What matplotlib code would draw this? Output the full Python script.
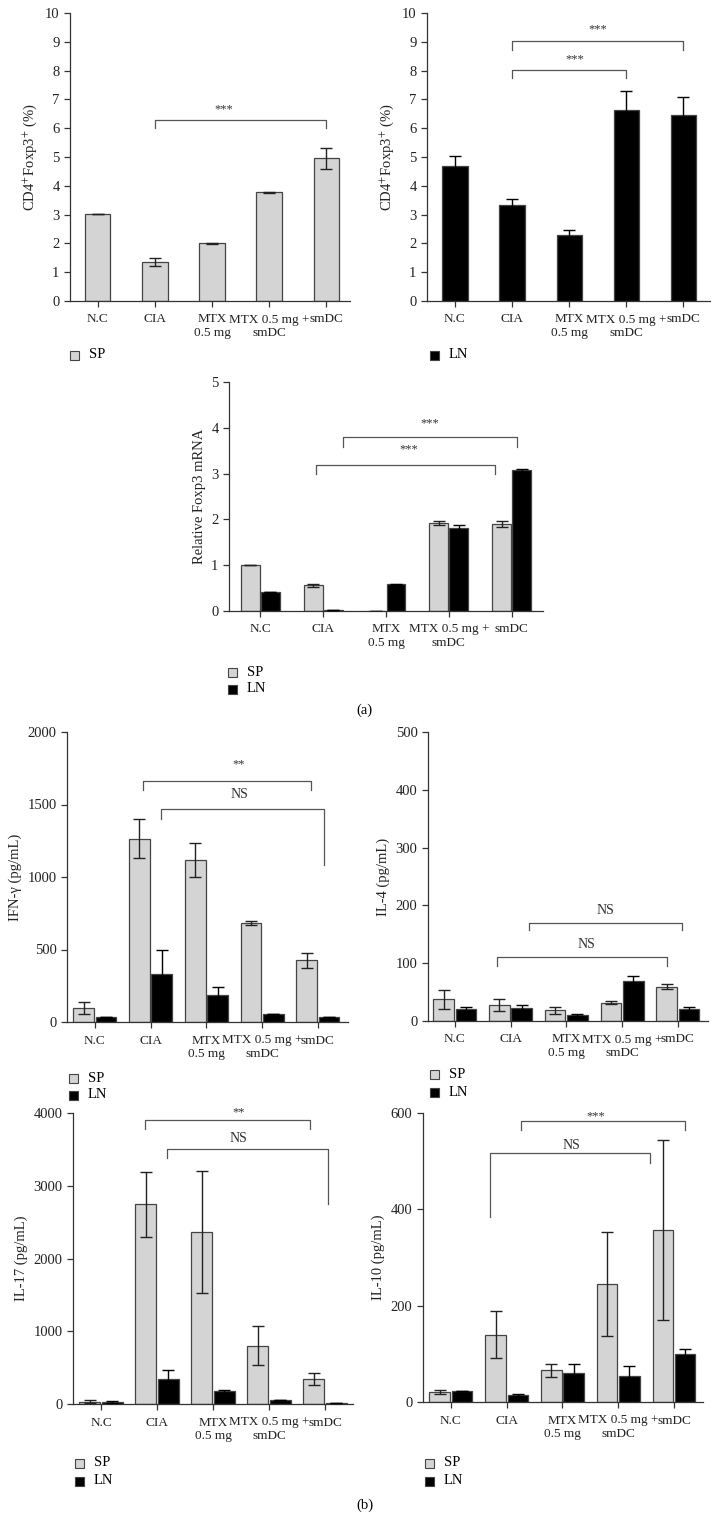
import matplotlib
matplotlib.use("Agg")
import matplotlib.pyplot as plt
from matplotlib.patches import Rectangle

plt.rcParams['font.family'] = ['Liberation Serif', 'DejaVu Serif']
plt.rcParams['mathtext.fontset'] = 'stix'
plt.rcParams['font.size'] = 10.5

# Grupos del eje x #
grupos = ["N.C", "CIA", "MTX\n0.5 mg", "MTX 0.5 mg +\nsmDC", "smDC"]

# (a) CD4+Foxp3+ (%) #
cd4_sp = [3.02, 1.36, 2.0, 3.78, 4.95]
cd4_sp_err = [0.01, 0.15, 0.03, 0.02, 0.35]
cd4_ln = [4.68, 3.32, 2.30, 6.62, 6.47]
cd4_ln_err = [0.37, 0.22, 0.16, 0.68, 0.60]

# (a) Relative Foxp3 mRNA #
mrna_sp = [1.0, 0.56, 0.01, 1.92, 1.90]
mrna_sp_err = [0.0, 0.03, 0.0, 0.05, 0.06]
mrna_ln = [0.41, 0.03, 0.58, 1.82, 3.07]
mrna_ln_err = [0.0, 0.0, 0.01, 0.05, 0.04]

# (b) citoquinas #
ifn_sp = [95, 1265, 1118, 683, 425]
ifn_sp_err = [40, 135, 118, 14, 50]
ifn_ln = [32, 331, 186, 55, 32]
ifn_ln_err = [0, 168, 55, 3, 0]

il4_sp = [37.5, 27.7, 18.5, 31.8, 59.5]
il4_sp_err = [16, 11, 6, 2, 4]
il4_ln = [20, 22, 10.4, 70, 21.4]
il4_ln_err = [3.5, 5, 2, 8.6, 3.5]

il17_sp = [32, 2748, 2362, 798, 344]
il17_sp_err = [18, 447, 842, 268, 80]
il17_ln = [28, 339, 174, 55, 18]
il17_ln_err = [10, 133, 18, 5, 0]

il10_sp = [21.4, 139.5, 65.6, 244.5, 357]
il10_sp_err = [4, 49, 13, 108, 187]
il10_ln = [22, 15, 60, 54.5, 98.8]
il10_ln_err = [0, 2, 19, 20.7, 11]

W, H = 719, 1519
GRIS = "#d4d4d4"
BORDE = "#444444"
LINEA = "#555555"

fig = plt.figure(figsize=(W / 100, H / 100), dpi=100)


def ejes(izq, arriba, der, abajo, ylim, yticks, ylabel, xlim):
    ax = fig.add_axes([izq / W, 1 - abajo / H, (der - izq) / W, (abajo - arriba) / H])
    ax.set_xlim(*xlim)
    ax.set_ylim(*ylim)
    ax.set_yticks(yticks)
    ax.set_xticks(range(5))
    ax.set_xticklabels(grupos, multialignment="center", fontsize=9.5)
    ax.spines["top"].set_visible(False)
    ax.spines["right"].set_visible(False)
    for s in ["left", "bottom"]:
        ax.spines[s].set_color("#333333")
        ax.spines[s].set_linewidth(0.9)
    ax.tick_params(direction="out", length=4, width=0.9, color="#333333", labelcolor="#222222")
    ax.tick_params(axis="x", pad=5)
    ax.set_ylabel(ylabel, fontsize=10.5, color="#222222")
    return ax


def barras(ax, x, vals, err, color, ancho, ecolor):
    ax.bar(x, vals, width=ancho, color=color, edgecolor=BORDE, linewidth=0.9, zorder=2)
    ax.errorbar(x, vals, yerr=err, fmt="none", ecolor=ecolor, elinewidth=1,
                capsize=4, capthick=1, zorder=3)


def corchete(ax, x1, x2, y, y1, y2, texto, xt, yt, size=10):
    ax.plot([x1, x1, x2, x2], [y1, y, y, y2], color=LINEA, lw=0.9, clip_on=False)
    ax.text(xt, yt, texto, ha="center", va="center", fontsize=size, color="#333333")


def leyenda(x, y, texto, color):
    fig.patches.append(Rectangle((x / W, 1 - (y + 4.5) / H), 9 / W, 9 / H,
                                 transform=fig.transFigure, facecolor=color,
                                 edgecolor=BORDE, linewidth=0.8))
    fig.text((x + 19) / W, 1 - y / H, texto, va="center", ha="left", fontsize=10.5)


x = list(range(5))
etq_cd4 = "CD4$^{+}$Foxp3$^{+}$ (%)"

# Panel 1: SP #
ax1 = ejes(70, 13, 350, 301, (0, 10), range(0, 11), etq_cd4, (-0.49, 4.42))
barras(ax1, x, cd4_sp, cd4_sp_err, GRIS, 0.44, "#222222")
corchete(ax1, 1, 4, 6.3, 6.0, 6.0, "***", 2.2, 6.65, 9)
leyenda(70, 355, "SP", GRIS)

# Panel 2: LN #
ax2 = ejes(427, 13, 710, 301, (0, 10), range(0, 11), etq_cd4, (-0.49, 4.47))
barras(ax2, x, cd4_ln, cd4_ln_err, "black", 0.44, "black")
corchete(ax2, 1, 3, 8.02, 7.74, 7.74, "***", 2.1, 8.4, 9)
corchete(ax2, 1, 4, 9.02, 8.7, 8.7, "***", 2.5, 9.42, 9)
leyenda(430, 355, "LN", "black")

# Panel 3: mRNA #
ax3 = ejes(229, 382, 543, 611, (0, 5), range(0, 6), "Relative Foxp3 mRNA", (-0.5, 4.5))
xs = [i - 0.16 for i in x]
xl = [i + 0.16 for i in x]
barras(ax3, xs, mrna_sp, mrna_sp_err, GRIS, 0.30, "#222222")
barras(ax3, xl, mrna_ln, mrna_ln_err, "black", 0.30, "black")
corchete(ax3, 0.89, 3.73, 3.18, 3.0, 3.0, "***", 2.36, 3.52, 9)
corchete(ax3, 1.31, 4.09, 3.79, 3.58, 3.58, "***", 2.69, 4.1, 9)
leyenda(228, 672, "SP", GRIS)
leyenda(228, 689, "LN", "black")
fig.text(364 / W, 1 - 710 / H, "(a)", ha="center", va="center", fontsize=10.5)

# Panel 4: IFN-γ #
ax4 = ejes(67, 732, 348, 1022, (0, 2000), range(0, 2001, 500), "IFN-γ (pg/mL)", (-0.5, 4.54))
xs = [i - 0.2 for i in x]
xl = [i + 0.2 for i in x]
barras(ax4, xs, ifn_sp, ifn_sp_err, GRIS, 0.37, "#222222")
barras(ax4, xl, ifn_ln, ifn_ln_err, "black", 0.37, "black")
corchete(ax4, 0.86, 3.87, 1660, 1598, 1598, "**", 2.58, 1775, 9)
corchete(ax4, 1.18, 4.11, 1469, 1402, 1085, "NS", 2.6, 1568)
leyenda(69, 1078, "SP", GRIS)
leyenda(69, 1095, "LN", "black")

# Panel 5: IL-4 #
ax5 = ejes(428, 732, 708, 1021, (0, 500), range(0, 501, 100), "IL-4 (pg/mL)", (-0.48, 4.54))
barras(ax5, xs, il4_sp, il4_sp_err, GRIS, 0.37, "#222222")
barras(ax5, xl, il4_ln, il4_ln_err, "black", 0.37, "black")
corchete(ax5, 0.75, 3.80, 111, 95, 95, "NS", 2.37, 133)
corchete(ax5, 1.33, 4.07, 169, 158, 158, "NS", 2.71, 191)
leyenda(430, 1074, "SP", GRIS)
leyenda(430, 1092, "LN", "black")

# Panel 6: IL-17 #
ax6 = ejes(73, 1113, 353, 1404, (0, 4000), range(0, 4001, 1000), "IL-17 (pg/mL)", (-0.5, 4.5))
barras(ax6, xs, il17_sp, il17_sp_err, GRIS, 0.37, "#222222")
barras(ax6, xl, il17_ln, il17_ln_err, "black", 0.37, "black")
corchete(ax6, 0.79, 3.73, 3899, 3780, 3780, "**", 2.45, 4013, 9)
corchete(ax6, 1.18, 4.05, 3509, 3380, 2752, "NS", 2.45, 3647)
leyenda(75, 1463, "SP", GRIS)
leyenda(75, 1481, "LN", "black")

# Panel 7: IL-10 #
ax7 = ejes(423, 1113, 703, 1402, (0, 600), range(0, 601, 200), "IL-10 (pg/mL)", (-0.5, 4.52))
barras(ax7, xs, il10_sp, il10_sp_err, GRIS, 0.37, "#222222")
barras(ax7, xl, il10_ln, il10_ln_err, "black", 0.37, "black")
corchete(ax7, 0.71, 3.57, 516, 385, 497, "NS", 2.17, 533)
corchete(ax7, 1.25, 4.2, 583, 564, 564, "***", 2.6, 593, 9)
leyenda(425, 1463, "SP", GRIS)
leyenda(425, 1481, "LN", "black")
fig.text(365 / W, 1 - 1505 / H, "(b)", ha="center", va="center", fontsize=10.5)

fig.savefig("out.png", dpi=100, facecolor="white")
